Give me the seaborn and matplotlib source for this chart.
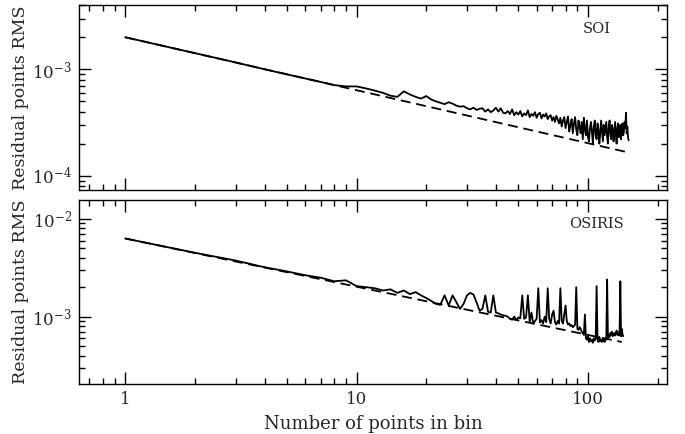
import numpy as np
import pandas as pd
import matplotlib
matplotlib.use("Agg")
import matplotlib.pyplot as plt
import seaborn as sns
from matplotlib.ticker import LogLocator, NullFormatter, FixedLocator, FixedFormatter

# ---------------- data ----------------
soi_n = list(range(1, 151))
soi_rms_e4 = [
    20.0, 14.2, 11.6, 10.0, 8.95, 8.2, 7.6, 7.1, 6.9, 6.9,
    6.6, 6.3, 6.0, 5.65, 5.5, 6.2, 5.8, 5.5, 5.3, 5.6,
    5.2, 5.0, 4.85, 4.7, 4.9, 4.75, 4.55, 4.45, 4.5, 4.3,
    4.2, 4.35, 4.15, 4.25, 4.3, 4.0, 4.2, 3.95, 4.1, 4.35,
    4.0, 4.3, 3.9, 3.85, 4.05, 3.8, 4.2, 3.7, 3.95, 3.75,
    4.05, 3.6, 3.85, 3.7, 4.1, 3.55, 3.8, 3.65, 3.95, 3.5,
    3.8, 3.9, 3.45, 3.75, 3.6, 3.85, 3.4, 3.6, 3.7, 3.3,
    3.55, 3.2, 3.65, 3.35, 3.1, 3.5, 2.9, 3.3, 3.55, 2.8,
    3.2, 3.6, 2.6, 3.0, 3.4, 2.5, 3.1, 3.55, 2.7, 2.4,
    3.3, 2.9, 2.5, 3.2, 2.2, 3.5, 2.7, 2.4, 3.3, 2.3,
    2.1, 2.8, 3.2, 2.6, 2.0, 2.9, 3.3, 2.4, 2.2, 3.1,
    2.7, 2.0, 2.5, 3.3, 2.6, 2.1, 3.0, 2.4, 2.8, 3.2,
    2.3, 2.0, 2.9, 3.3, 2.5, 2.2, 3.0, 2.7, 2.1, 2.6,
    3.2, 2.4, 2.0, 2.8, 3.1, 2.3, 2.6, 3.0, 2.2, 2.7,
    3.1, 2.4, 2.6, 3.2, 2.8, 3.9, 2.5, 2.9, 2.3, 2.15,
]
soi_model_n = [1, 150]
soi_model_rms = [2.0e-3, 1.65e-4]

osiris_n = list(range(1, 143))
osiris_rms_e4 = [
    63.0, 45.0, 37.5, 32.0, 29.0, 26.5, 25.0, 23.0, 23.5, 20.5,
    20.0, 19.5, 18.5, 19.0, 17.5, 18.5, 17.0, 17.8, 16.5, 15.5,
    14.5, 13.5, 13.2, 16.5, 13.0, 16.5, 14.0, 12.0, 13.5, 16.5,
    17.5, 16.8, 14.0, 11.5, 12.0, 16.5, 11.2, 11.0, 16.5, 11.0,
    10.8, 10.5, 10.3, 10.2, 10.0, 9.5, 9.3, 10.0, 9.2, 9.8,
    9.6, 16.5, 9.5, 9.8, 16.5, 8.8, 11.0, 8.5, 9.0, 9.5,
    19.5, 8.7, 9.2, 8.5, 10.0, 8.8, 19.5, 9.5, 8.5, 10.5,
    11.5, 8.8, 8.3, 9.0, 8.5, 19.5, 9.0, 8.5, 10.5, 13.0,
    9.0, 8.3, 8.5, 8.0, 8.2, 7.8, 8.0, 8.3, 20.0, 7.5,
    7.3, 7.8, 7.5, 7.0, 6.8, 6.5, 10.5, 6.0, 5.8, 6.3,
    5.5, 6.0, 5.6, 5.8, 5.4, 6.0, 5.7, 6.0, 20.5, 5.8,
    5.5, 6.2, 5.6, 5.8, 5.5, 6.0, 5.7, 5.5, 6.0, 5.8,
    24.0, 6.0, 6.5, 6.2, 6.8, 6.5, 7.0, 6.3, 6.6, 6.8,
    6.4, 6.7, 7.2, 6.5, 6.9, 6.4, 7.0, 23.0, 6.3, 7.5,
    6.6, 6.3,
]
osiris_model_n = [1, 140]
osiris_model_rms = [6.3e-3, 5.5e-4]

panel_names = ["SOI", "OSIRIS"]
x_tick_values = [1, 10, 100]
x_tick_labels = ["1", "10", "100"]

# ---------------- style ----------------
sns.set_style("ticks")
plt.rcParams["font.family"] = ["DejaVu Serif"]
plt.rcParams["mathtext.fontset"] = "dejavuserif"

fig, axes = plt.subplots(2, 1, figsize=(6.85, 4.34), dpi=100, sharex=True)
fig.subplots_adjust(left=0.115, right=0.974, top=0.988, bottom=0.115, hspace=0.055)

soi_df = pd.DataFrame({"n": soi_n, "rms": np.array(soi_rms_e4) * 1e-4})
osi_df = pd.DataFrame({"n": osiris_n, "rms": np.array(osiris_rms_e4) * 1e-4})

series = [
    (soi_df, soi_model_n, soi_model_rms, (7.4e-5, 4.0e-3)),
    (osi_df, osiris_model_n, osiris_model_rms, (2.04e-4, 1.57e-2)),
]

for ax, name, (df, mn, mr, ylim) in zip(axes, panel_names, series):
    sns.lineplot(data=df, x="n", y="rms", ax=ax, color="black", lw=1.3,
                 estimator=None, sort=False)
    sns.lineplot(x=mn, y=mr, ax=ax, color="black", lw=1.3,
                 linestyle=(0, (5.5, 3.2)), estimator=None)
    ax.set_xscale("log")
    ax.set_yscale("log")
    ax.set_xlim(0.63, 220)
    ax.set_ylim(*ylim)
    ax.set_xlabel("")
    ax.set_ylabel("Residual points RMS", fontsize=12.5, labelpad=2)
    ax.text(0.88, 0.87, name, transform=ax.transAxes, ha="center", va="center",
            fontsize=10.5)
    for s in ax.spines.values():
        s.set_visible(True)
        s.set_linewidth(1.0)
        s.set_color("black")
    ax.tick_params(which="both", direction="in", top=True, right=True,
                   color="black", width=1.0)
    ax.tick_params(which="major", length=8.5, labelsize=12, pad=5)
    ax.tick_params(which="minor", length=4.5)
    ax.yaxis.set_major_locator(LogLocator(base=10, numticks=10))
    ax.yaxis.set_minor_locator(LogLocator(base=10, subs=np.arange(2, 10), numticks=20))
    ax.yaxis.set_minor_formatter(NullFormatter())
    ax.xaxis.set_minor_locator(LogLocator(base=10, subs=np.arange(2, 10), numticks=20))
    ax.xaxis.set_minor_formatter(NullFormatter())

axes[1].xaxis.set_major_locator(FixedLocator(x_tick_values))
axes[1].xaxis.set_major_formatter(FixedFormatter(x_tick_labels))
axes[1].set_xlabel("Number of points in bin", fontsize=13, labelpad=5)
axes[0].tick_params(labelbottom=False)

fig.savefig("out.png", dpi=100)
